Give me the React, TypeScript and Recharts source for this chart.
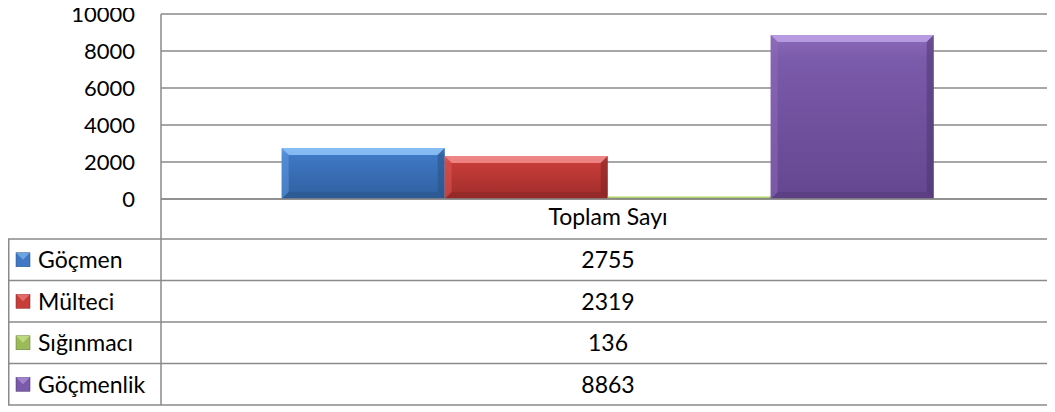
import React from "react";
import { BarChart, Bar, XAxis, YAxis, CartesianGrid } from "recharts";

const categories = ["Toplam Sayı"];
const seriesNames = ["Göçmen", "Mülteci", "Sığınmacı", "Göçmenlik"];
const gocmen = [2755];
const multeci = [2319];
const siginmaci = [136];
const gocmenlik = [8863];
const yTicks = [0, 2000, 4000, 6000, 8000, 10000];

const seriesValues = [gocmen, multeci, siginmaci, gocmenlik];
const seriesKeys = ["s0", "s1", "s2", "s3"];
const colors = [
  { top: "#5f9ee6", mid: "#3f78c4", bot: "#2f5f9f", bevel: "#8cc0f5", edge: "#25507f" },
  { top: "#e05a57", mid: "#c83c39", bot: "#9e2d2b", bevel: "#f08a88", edge: "#7c2220" },
  { top: "#b5d56f", mid: "#9bbb59", bot: "#7a9642", bevel: "#d4ec9a", edge: "#5f7533" },
  { top: "#8d6bbb", mid: "#7a5aaa", bot: "#644690", bevel: "#bba0e4", edge: "#4a3369" },
];

const data = categories.map((c, i) => {
  const row: Record<string, string | number> = { name: c };
  seriesKeys.forEach((k, j) => {
    row[k] = seriesValues[j][i];
  });
  return row;
});

const W = 1055;
const H = 412;
const MARGIN_TOP = 14;
const Y_WIDTH = 161;
const X_HEIGHT = 213;
const PLOT_BOTTOM = H - X_HEIGHT;
const TABLE_LEFT = 8;
const TABLE_TOP = 239;
const ROW_H = 41.5;
const LINE = "#8a8a8a";
const FONT = "Lato, 'Open Sans', sans-serif";
const FS = 22;
const FS_T = 23;

function BevelBar(props: any) {
  const { x, y, width, height, seriesIdx } = props;
  if (height == null || height <= 0) return null;
  const c = colors[seriesIdx];
  const b = Math.min(7, height / 2);
  return (
    <g>
      <rect x={x} y={y} width={width} height={height} fill={`url(#grad${seriesIdx})`} />
      <polygon
        points={`${x},${y} ${x + width},${y} ${x + width - b},${y + b} ${x + b},${y + b}`}
        fill={c.bevel}
        opacity={0.9}
      />
      <polygon
        points={`${x + width},${y} ${x + width},${y + height} ${x + width - b},${y + height - b} ${x + width - b},${y + b}`}
        fill={c.edge}
        opacity={0.5}
      />
      <polygon
        points={`${x},${y + height} ${x + width},${y + height} ${x + width - b},${y + height - b} ${x + b},${y + height - b}`}
        fill={c.edge}
        opacity={0.35}
      />
      <polygon
        points={`${x},${y} ${x + b},${y + b} ${x + b},${y + height - b} ${x},${y + height}`}
        fill={c.top}
        opacity={0.5}
      />
    </g>
  );
}

function TableTick(props: any) {
  const { x, index } = props;
  const catIdx = index ?? 0;
  const rows = seriesNames.map((n, j) => ({ name: n, value: seriesValues[j][catIdx], j }));
  const lines: React.ReactNode[] = [];
  const tableBottom = TABLE_TOP + rows.length * ROW_H;
  if (catIdx === 0) {
    for (let r = 0; r <= rows.length; r++) {
      const yy = TABLE_TOP + r * ROW_H;
      lines.push(<line key={"h" + r} x1={TABLE_LEFT} x2={W} y1={yy} y2={yy} stroke={LINE} strokeWidth={1.5} />);
    }
    lines.push(
      <line key="v0" x1={TABLE_LEFT + 0.75} x2={TABLE_LEFT + 0.75} y1={TABLE_TOP} y2={tableBottom} stroke={LINE} strokeWidth={1.5} />
    );
    lines.push(
      <line key="v1" x1={Y_WIDTH} x2={Y_WIDTH} y1={PLOT_BOTTOM} y2={tableBottom} stroke={LINE} strokeWidth={1.5} />
    );
    rows.forEach((r, i) => {
      const top = TABLE_TOP + i * ROW_H;
      const c = colors[r.j];
      const ix = TABLE_LEFT + 8;
      const iy = top + ROW_H / 2 - 7;
      lines.push(
        <g key={"lg" + i}>
          <rect x={ix} y={iy} width={14} height={14} fill={c.mid} stroke={c.edge} strokeWidth={0.5} />
          <polygon points={`${ix},${iy} ${ix + 14},${iy} ${ix + 7},${iy + 7}`} fill={c.bevel} opacity={0.6} />
          <text x={TABLE_LEFT + 30} y={top + 29} fontSize={FS_T} fontFamily={FONT} fill="#000">
            {r.name}
          </text>
        </g>
      );
    });
  }
  return (
    <g>
      {lines}
      <text x={x} y={PLOT_BOTTOM + 25.5} textAnchor="middle" fontSize={FS_T} fontFamily={FONT} fill="#000">
        {categories[catIdx]}
      </text>
      {rows.map((r, i) => (
        <text
          key={"v" + i}
          x={x}
          y={TABLE_TOP + i * ROW_H + 29}
          textAnchor="middle"
          fontSize={FS_T}
          fontFamily={FONT}
          fill="#000"
        >
          {r.value}
        </text>
      ))}
    </g>
  );
}

export default function App() {
  return (
    <div style={{ width: W, height: H, background: "#fff", margin: "-8px 0 0 -8px" }}>
      <BarChart
        width={W}
        height={H}
        data={data}
        margin={{ top: MARGIN_TOP, right: 0, bottom: 0, left: 0 }}
        barCategoryGap="13.5%"
        barGap={0}
        style={{ fontFamily: FONT }}
      >
        <defs>
          {colors.map((c, i) => (
            <linearGradient key={i} id={`grad${i}`} x1="0" y1="0" x2="0" y2="1">
              <stop offset="0%" stopColor={c.top} />
              <stop offset="15%" stopColor={c.mid} />
              <stop offset="100%" stopColor={c.bot} />
            </linearGradient>
          ))}
        </defs>
        <CartesianGrid horizontal vertical={false} stroke={LINE} strokeWidth={1.5} />
        <XAxis
          dataKey="name"
          height={X_HEIGHT}
          tickLine={false}
          axisLine={{ stroke: LINE, strokeWidth: 1.5 }}
          tick={<TableTick />}
          interval={0}
        />
        <YAxis
          width={Y_WIDTH}
          domain={[0, 10000]}
          ticks={yTicks}
          interval={0}
          tickLine={false}
          tickMargin={20}
          axisLine={{ stroke: LINE, strokeWidth: 1.5 }}
          tick={{ fill: "#000", fontSize: FS, fontFamily: FONT }}
        />
        {seriesKeys.map((k, j) => (
          <Bar
            key={k}
            dataKey={k}
            name={seriesNames[j]}
            isAnimationActive={false}
            fill={colors[j].mid}
            shape={(p: any) => <BevelBar {...p} seriesIdx={j} />}
          />
        ))}
      </BarChart>
    </div>
  );
}
